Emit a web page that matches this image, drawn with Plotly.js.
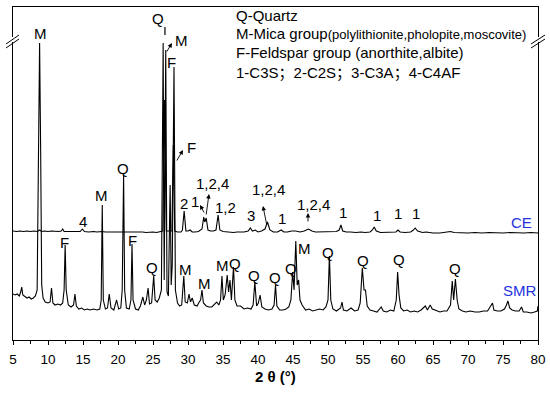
<!DOCTYPE html>
<html>
<head>
<meta charset="utf-8">
<script src="https://cdn.plot.ly/plotly-3.0.1.min.js"></script>
<style>html,body{margin:0;padding:0;background:#fff;}#chart{width:550px;height:394px;}</style>
</head>
<body>
<div id="chart"></div>
<script>
// ---- Data (2θ in degrees, intensity in a.u., offset traces) ----
const ceTheta = [5.0,5.5,6,6.5,7,7.5,8,8.5,8.8,9.1,9.5,10,10.5,11,11.5,11.9,12.1,12.3,13,13.5,14,14.6,14.9,15.2,15.8,16.5,17,17.7,18.2,19,19.5,20,20.8,21.5,22,22.5,23,23.5,24,24.5,25,25.5,26,26.4,26.65,26.9,27.2,27.7,27.9,28.1,28.5,29.0,29.2,29.45,29.7,30.0,30.3,30.6,31,31.5,32.0,32.25,32.4,32.6,32.85,33.2,33.6,34.0,34.3,34.55,35,35.5,36,36.5,37,37.5,38,38.6,38.9,39.2,39.6,40,40.5,41.0,41.35,41.7,42.2,42.8,43.3,43.7,44.2,44.8,45.4,46,46.6,47.2,47.7,48.2,49,49.5,50,50.6,51.2,51.6,51.85,52.1,52.6,53.2,54,54.7,55.3,56,56.35,56.6,56.9,57.5,58.3,59,59.7,60.0,60.3,61,61.8,62.2,62.45,62.8,63.5,64,65,66,67,67.5,68,69,70,71,72,73,74,75,76,77,78,79,80];
const ceInt = [109,108.5,109,108.5,109,108.5,109,108.5,110,108.5,109,108.5,109,108.5,108.5,109,111,108.5,108.5,108,108.5,108.5,111,108.5,108,108.5,108,108.5,108,108,108.5,108,108.5,108,108,108,108,108,107.5,108,108,107.5,108,109,240,109,109,109,195,109,108,108,110,129,109,109,110,108,108,108.5,111,123,118,122,110,109,109,110,125,110,108.5,108,108,107.5,108,108,108,109,112,109,110,108,109,111,118,110,108,108,110,108,108,109,109,108,109,111,109,108,108,108.5,108,108,108.5,110,115,109,108,108,107.5,108,107.5,108,110,113,109,107.5,107.5,107.5,108,110,108,107.5,108,110,112,109,107.5,108,107,107,107.5,108.5,107.5,107,107,107.5,107,107.5,107,107,107.5,107,107,107.5,107];

const smrTheta = [5.0,5.3,5.6,5.9,6.1,6.25,6.4,6.7,7.0,7.3,7.6,7.9,8.2,8.45,8.65,8.8,8.95,9.1,9.3,9.6,10.0,10.3,10.5,10.7,11.0,11.4,11.8,12.1,12.3,12.45,12.6,12.9,13.3,13.65,13.85,14.05,14.4,14.8,15.2,15.6,16.0,16.5,17.0,17.4,17.6,17.75,17.9,18.2,18.5,18.75,19.0,19.4,19.8,20.1,20.4,20.6,20.8,20.95,21.2,21.6,21.85,22.0,22.15,22.5,22.9,23.2,23.55,23.8,24.05,24.3,24.5,24.8,25.1,25.3,25.6,25.9,26.2,26.45,26.6,26.82,27.0,27.2,27.45,27.6,27.75,28.0,28.2,28.5,28.8,29.1,29.4,29.6,29.9,30.15,30.35,30.6,30.9,31.3,31.6,31.8,32.0,32.2,32.6,33.0,33.4,33.8,34.1,34.4,34.65,34.85,35.05,35.3,35.6,35.8,36.0,36.2,36.5,36.7,37.0,37.5,38.0,38.5,39.0,39.3,39.55,39.8,40.05,40.3,40.55,41.0,41.5,42.0,42.3,42.5,42.7,43.1,43.6,44.0,44.4,44.7,44.95,45.15,45.4,45.6,45.8,46.0,46.3,46.8,47.3,47.8,48.3,48.8,49.3,49.7,50.0,50.2,50.4,50.7,51.2,51.8,52.0,52.2,52.7,53.3,53.8,54.3,54.6,54.9,55.15,55.35,55.6,56.0,56.5,57.0,57.6,57.9,58.4,58.9,59.4,59.75,59.95,60.15,60.4,60.8,61.3,61.8,62.3,62.8,63.3,63.9,64.2,64.6,64.9,65.5,66.0,66.5,67.0,67.5,67.75,67.95,68.2,68.45,68.7,69.2,69.7,70.3,71.0,71.6,72.2,72.8,73.3,73.5,73.7,74.2,74.7,75.2,75.5,75.7,75.95,76.3,76.8,77.3,77.65,77.9,78.4,79.0,79.5,79.9,80.0];
const smrInt = [46,45,46,44,48,53,45,43,42,43,41,42,44,50,190,297,190,55,42,38,37,38,52,37,35,36,35,37,50,95,50,35,33,35,46,34,31,32,30,31,30,31,30,31,40,135,40,31,32,46,32,30,40,31,32,50,165,50,32,31,40,96,40,31,30,34,43,35,40,52,36,37,64,40,38,42,50,297,60,290,48,44,155,55,75,273,50,37,34,35,64,38,37,46,38,42,35,34,38,40,50,37,34,33,33,36,38,35,40,64,40,45,65,48,60,40,73,40,34,34,31,32,31,35,58,34,37,45,33,31,30,31,35,55,34,30,30,31,33,40,68,50,99,55,60,40,35,30,31,29,30,31,30,33,40,84,40,31,29,32,38,30,29,32,29,30,37,72,50,50,34,30,29,28,33,29,28,30,29,40,68,45,32,29,30,28,29,28,30,34,30,35,31,29,28,29,29,35,59,40,61,40,31,29,28,29,28,28,29,29,34,37,30,29,29,31,35,39,32,30,29,29,33,28,28,27,28,29,34];

// peak labels: [text, 2θ, height]
const peakLabels = [
  ['M',8.86,307],['Q',25.71,322],['M',29.0,300],['F',27.71,278],['F',30.43,193],
  ['Q',20.71,172],['M',17.71,145],['4',15.0,119],['F',12.29,98],['F',22.0,100],
  ['Q',24.86,73],['M',29.71,71],['M',32.29,57],['M',34.86,75],['Q',36.71,77],
  ['Q',39.43,65],['Q',42.43,63],['Q',44.71,72],['M',46.71,92],['Q',50.0,88],
  ['Q',55.0,80],['Q',60.14,81],['Q',68.14,72],
  ['2',29.43,137],['1',31.0,139],['1,2,4',33.57,157],['1,2',35.29,133],['3',39.0,125],
  ['1,2,4',41.43,151],['1',43.43,122],['1,2,4',47.86,136],['1',52.14,128],
  ['1',57.0,125],['1',60.0,127],['1',62.57,127]
];
// arrows: [head 2θ, head height, tail dx px, tail dy px]
const arrows = [[27.71,297,-6,10],[29.29,190,-7,12],[31.71,135,5,9],[33.0,146,-3,22],[40.71,134,4,20],[47.14,127,0,10]];
const seriesNames = [['CE',77.71,118],['SMR',77.43,50]];
const SEMI = '<span style="font-family:\'Noto Sans CJK SC\'">；</span>';
const legendLines = [
  'Q-Quartz',
  'M-Mica group<span style="font-size:13px">(polylithionite,pholopite,moscovite)</span>',
  'F-Feldspar group (anorthite,albite)',
  '1-C3S' + SEMI + '2-C2S' + SEMI + '3-C3A' + SEMI + '4-C4AF'
];
const xTickVals = [5,10,15,20,25,30,35,40,45,50,55,60,65,70,75,80];
const xTitle = '<b>2 θ (°)</b>';

const FONT = 'Liberation Sans, Arial, sans-serif';
const traces = [
  {x: ceTheta, y: ceInt, type:'scatter', mode:'lines', line:{color:'#000', width:1.1}, name:'CE', hoverinfo:'skip'},
  {x: smrTheta, y: smrInt, type:'scatter', mode:'lines', line:{color:'#000', width:1.1}, name:'SMR', hoverinfo:'skip'}
];

function px(x){return (x-13)/525;}
function py(y){return (340-y)/333;}

const annotations = [];
peakLabels.forEach(p => annotations.push({x:p[1], y:p[2], text:p[0], showarrow:false, xanchor:'center', yanchor:'middle', font:{family:FONT, size:15, color:'#000'}}));
arrows.forEach(a => annotations.push({x:a[0], y:a[1], ax:a[2], ay:a[3], text:'', showarrow:true, arrowhead:2, arrowsize:1, arrowwidth:0.9, arrowcolor:'#000', standoff:0, startstandoff:0}));
seriesNames.forEach(s => annotations.push({x:s[1], y:s[2], text:s[0], showarrow:false, xanchor:'center', yanchor:'middle', font:{family:FONT, size:15, color:'#2233dd'}}));
const lineY = [325, 307, 288, 269];
legendLines.forEach((t,i) => annotations.push({x:36.6, y:lineY[i], text:t, showarrow:false, xanchor:'left', yanchor:'middle', font:{family:FONT, size:15, color:'#000'}}));
annotations.push({xref:'paper', yref:'paper', x:0.5, y:py(376), text:xTitle, showarrow:false, xanchor:'center', yanchor:'middle', font:{family:FONT, size:15, color:'#000'}});

// axis break marks & quartz peak continuation (paper coords)
const shapes = [
  {type:'line', xref:'paper', yref:'paper', x0:px(13), x1:px(13), y0:py(37), y1:py(42), line:{color:'#fff', width:3}},
  {type:'line', xref:'paper', yref:'paper', x0:px(6), y0:py(44), x1:px(19), y1:py(35), line:{color:'#000', width:1}},
  {type:'line', xref:'paper', yref:'paper', x0:px(6), y0:py(48), x1:px(19), y1:py(39), line:{color:'#000', width:1}},
  {type:'line', xref:'paper', yref:'paper', x0:px(538), x1:px(538), y0:py(37), y1:py(42), line:{color:'#fff', width:3}},
  {type:'line', xref:'paper', yref:'paper', x0:px(531), y0:py(44), x1:px(545), y1:py(35), line:{color:'#000', width:1}},
  {type:'line', xref:'paper', yref:'paper', x0:px(531), y0:py(48), x1:px(545), y1:py(39), line:{color:'#000', width:1}},
  {type:'line', xref:'x', yref:'paper', x0:26.71, x1:26.71, y0:py(27), y1:py(35), line:{color:'#000', width:1.2}}
];

const layout = {
  width:550, height:394,
  margin:{l:13, r:12, t:7, b:54},
  paper_bgcolor:'#fff', plot_bgcolor:'#fff',
  showlegend:false,
  font:{family:FONT, color:'#000'},
  xaxis:{range:[5,80], tickmode:'array', tickvals:xTickVals, ticks:'outside', ticklen:4, tickwidth:1, tickcolor:'#000',
    ticklabelstandoff:3,
    minor:{ticks:'outside', ticklen:3, tickwidth:1, tickcolor:'#000', tickmode:'linear', tick0:7.5, dtick:5},
    showline:true, mirror:true, linecolor:'#000', linewidth:1.2, showgrid:false, zeroline:false,
    tickfont:{family:FONT, size:13.5, color:'#000'}},
  yaxis:{range:[0,333], showline:true, mirror:true, linecolor:'#000', linewidth:1.2, showgrid:false, zeroline:false, ticks:'', showticklabels:false},
  annotations: annotations,
  shapes: shapes
};
Plotly.newPlot('chart', traces, layout, {staticPlot:true, displayModeBar:false});
</script>
</body>
</html>
